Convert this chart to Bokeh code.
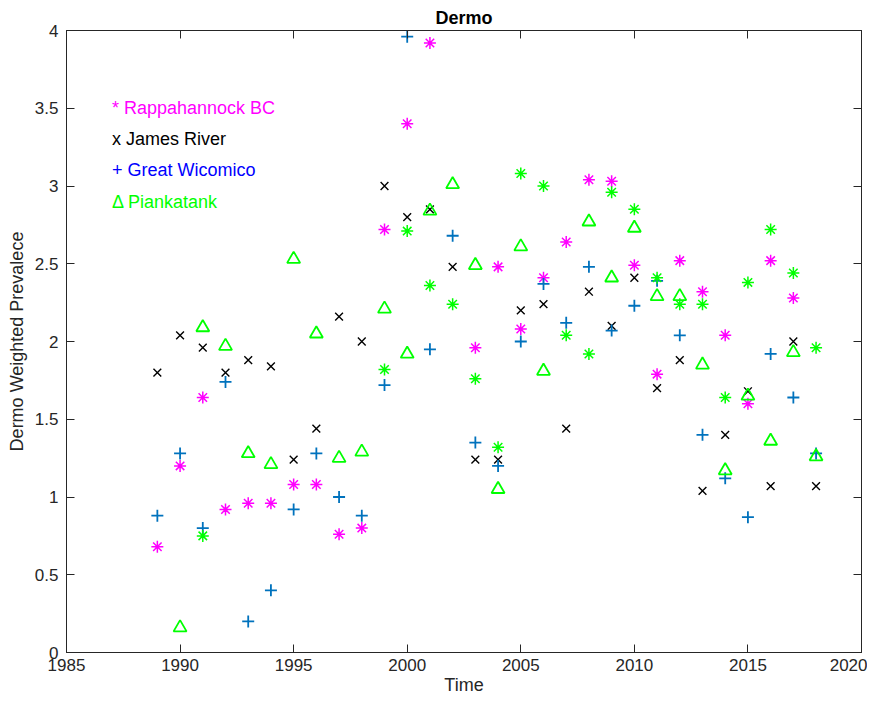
import math
from bokeh.plotting import figure
from bokeh.models import Range1d, FixedTicker, LinearAxis, ColumnDataSource, CustomJSTickFormatter
from bokeh.core.properties import value
from bokeh.embed import file_html
from bokeh.resources import INLINE

nan = float("nan")

years = list(range(1989, 2019))

rappahannock = [0.68, 1.20, 1.64, 0.92, 0.96, 0.96, 1.08, 1.08, 0.76, 0.80,
                2.72, 3.40, 3.92, nan, 1.96, 2.48, 2.08, 2.41, 2.64, 3.04,
                3.03, 2.49, 1.79, 2.52, 2.32, 2.04, 1.60, 2.52, 2.28, nan]

james_river = [1.80, 2.04, 1.96, 1.80, 1.88, 1.84, 1.24, 1.44, 2.16, 2.00,
               3.00, 2.80, 2.85, 2.48, 1.24, 1.24, 2.20, 2.24, 1.44, 2.32,
               2.10, 2.41, 1.70, 1.88, 1.04, 1.40, 1.68, 1.07, 2.00, 1.07]

great_wicomico = [0.88, 1.28, 0.80, 1.74, 0.20, 0.40, 0.92, 1.28, 1.00, 0.88,
                  1.72, 3.96, 1.95, 2.68, 1.35, 1.20, 2.00, 2.37, 2.12, 2.48,
                  2.07, 2.23, 2.39, 2.04, 1.40, 1.12, 0.87, 1.92, 1.64, 1.28]

piankatank = [nan, 0.16, 2.09, 1.97, 1.28, 1.21, 2.53, 2.05, 1.25, 1.29,
              2.21, 1.92, 2.84, 3.01, 2.49, 1.05, 2.61, 1.81, nan, 2.77,
              2.41, 2.73, 2.29, 2.29, 1.85, 1.17, 1.65, 1.36, 1.93, 1.26]

piankatank_star = [nan, nan, 0.75, nan, nan, nan, nan, nan, nan, nan,
                   1.82, 2.71, 2.36, 2.24, 1.76, 1.32, 3.08, 3.00, 2.04, 1.92,
                   2.96, 2.85, 2.41, 2.24, 2.24, 1.64, 2.38, 2.72, 2.44, 1.96]

x_ticks = [1985, 1990, 1995, 2000, 2005, 2010, 2015, 2020]
y_ticks = [0, 0.5, 1, 1.5, 2, 2.5, 3, 3.5, 4]
y_tick_labels = ["0", "0.5", "1", "1.5", "2", "2.5", "3", "3.5", "4"]

legend_labels = ["* Rappahannock BC", "x James River", "+ Great Wicomico", "\u0394 Piankatank"]
legend_colors = ["#ff00ff", "#000000", "#0000ff", "#00ff00"]
legend_x = [1987, 1987, 1987, 1987]
legend_y = [3.5, 3.3, 3.1, 2.9]

FONT = "Liberation Sans"
AX = "#262626"

p = figure(width=867, height=697,
           x_range=Range1d(1985, 2020), y_range=Range1d(0, 4),
           output_backend="svg", toolbar_location=None,
           min_border_left=66, min_border_right=6,
           min_border_top=30, min_border_bottom=44,
           title="Dermo")
p.title.align = "center"
p.title.text_font = FONT
p.title.text_font_size = "18px"
p.title.text_font_style = "bold"
p.title.text_color = "#000000"
p.title.standoff = 6

p.xgrid.visible = False
p.ygrid.visible = False
p.outline_line_color = AX
p.outline_line_width = 1
p.background_fill_color = "white"
p.border_fill_color = "white"

for ax in (p.xaxis[0], p.yaxis[0]):
    ax.major_tick_in = 8
    ax.major_tick_out = 0
    ax.minor_tick_in = 0
    ax.minor_tick_out = 0
    ax.axis_line_color = AX
    ax.major_tick_line_color = AX
    ax.major_label_text_font = FONT
    ax.major_label_text_font_size = "17px"
    ax.major_label_text_color = AX
    ax.axis_label_text_font = FONT
    ax.axis_label_text_font_size = "18px"
    ax.axis_label_text_font_style = "normal"
    ax.axis_label_text_color = AX

p.xaxis[0].ticker = FixedTicker(ticks=x_ticks)
p.yaxis[0].ticker = FixedTicker(ticks=y_ticks)
p.yaxis[0].major_label_overrides = {float(t): l for t, l in zip(y_ticks, y_tick_labels)}
p.xaxis[0].axis_label = "Time"
p.yaxis[0].axis_label = "Dermo Weighted Prevalece"
p.xaxis[0].major_label_standoff = 6
p.xaxis[0].axis_label_standoff = 1
p.yaxis[0].major_label_standoff = 8
p.yaxis[0].axis_label_standoff = 5

blank = CustomJSTickFormatter(code="return ''")
top_ax = LinearAxis(ticker=FixedTicker(ticks=x_ticks), formatter=blank,
                    major_tick_in=8, major_tick_out=0, minor_tick_in=0, minor_tick_out=0,
                    major_label_standoff=0, axis_line_color=AX, major_tick_line_color=AX)
right_ax = LinearAxis(ticker=FixedTicker(ticks=y_ticks), formatter=blank,
                      major_tick_in=8, major_tick_out=0, minor_tick_in=0, minor_tick_out=0,
                      major_label_standoff=0, axis_line_color=AX, major_tick_line_color=AX)
p.add_layout(top_ax, "above")
p.add_layout(right_ax, "right")

src = ColumnDataSource(dict(year=years, rap=rappahannock, jam=james_river,
                            gw=great_wicomico, pia=piankatank, pias=piankatank_star))

p.scatter("year", "rap", source=src, marker="asterisk", size=12, line_color="#ff00ff", line_width=1.5)
p.scatter("year", "jam", source=src, marker="x", size=11, line_color="#000000", line_width=1.4)
p.scatter("year", "gw", source=src, marker="cross", size=12, line_color="#0072bd", line_width=1.8)
p.scatter("year", "pia", source=src, marker="triangle", size=13, line_color="#00ff00",
          fill_color=None, line_width=1.8)
p.scatter("year", "pias", source=src, marker="asterisk", size=12, line_color="#00ff00", line_width=1.5)

leg = ColumnDataSource(dict(x=legend_x, y=legend_y, text=legend_labels, color=legend_colors))
p.text(x="x", y="y", text="text", text_color="color", source=leg,
       text_font=value(FONT), text_font_size="18px", text_baseline="middle", text_align="left")

open("out.html", "w").write(file_html(p, INLINE))
